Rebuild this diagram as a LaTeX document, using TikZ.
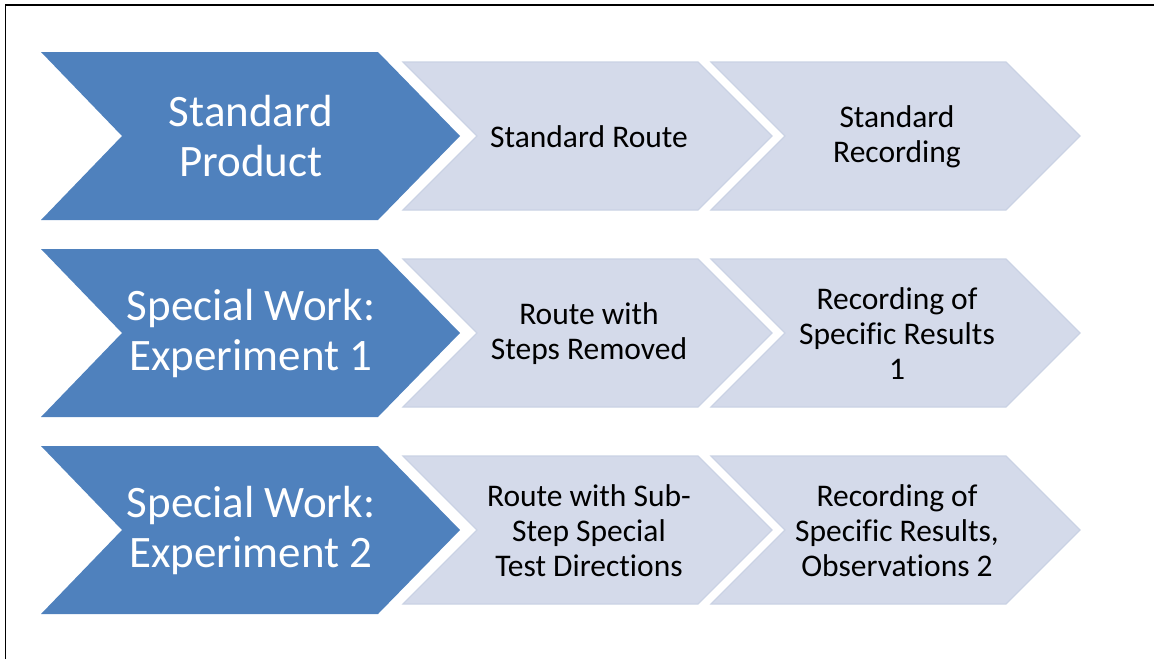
\documentclass[tikz,border=0pt]{standalone}
\usepackage{fontspec}
\setmainfont[Ligatures=NoCommon]{Carlito}

\definecolor{stepblue}{HTML}{4F81BD}
\definecolor{steplight}{HTML}{D4DAEA}
\definecolor{stepedge}{HTML}{CAD2E4}

\tikzset{
  headtxt/.style={text=white,align=center,font=\fontsize{45}{50}\selectfont},
  subtxt/.style={text=black,align=center,font=\fontsize{31.5}{35}\selectfont},
}

\begin{document}
\begin{tikzpicture}[x=1pt,y=-1pt]
  \useasboundingbox (0,0) rectangle (1154,659);
  \draw[line width=1.7pt] (5.5,659) -- (5.5,4.7) -- (1154,4.7);
  \foreach \y/\head/\route/\rec [count=\r] in {
    52/{Standard\\Product}/{Standard Route}/{Standard\\Recording},
    249/{Special Work:\\Experiment 1}/{Route with\\Steps Removed}/{Recording of\\Specific Results\\1},
    446/{Special Work:\\Experiment 2}/{Route with Sub-\\Step Special\\Test Directions}/{Recording of\\Specific Results,\\Observations 2}}{
    % dark chevron
    \fill[stepblue] (41,\y) -- (378,\y) -- (460,\y+84) -- (378,\y+168)
      -- (41,\y+168) -- (122,\y+84) -- cycle;
    % two light chevrons
    \foreach \dx in {0,308}
      \filldraw[fill=steplight,draw=stepedge,line width=1.2pt]
        (403+\dx,\y+10) -- (698+\dx,\y+10) -- (772+\dx,\y+84)
        -- (698+\dx,\y+158) -- (403+\dx,\y+158) -- (477+\dx,\y+84) -- cycle;
    \node[headtxt] (head\r) at (251,\y+84) {\head};
    \node[subtxt] (route\r) at (589,\y+85) {\route};
    \node[subtxt] (rec\r) at (897,\y+85) {\rec};
  }
\end{tikzpicture}
\end{document}
